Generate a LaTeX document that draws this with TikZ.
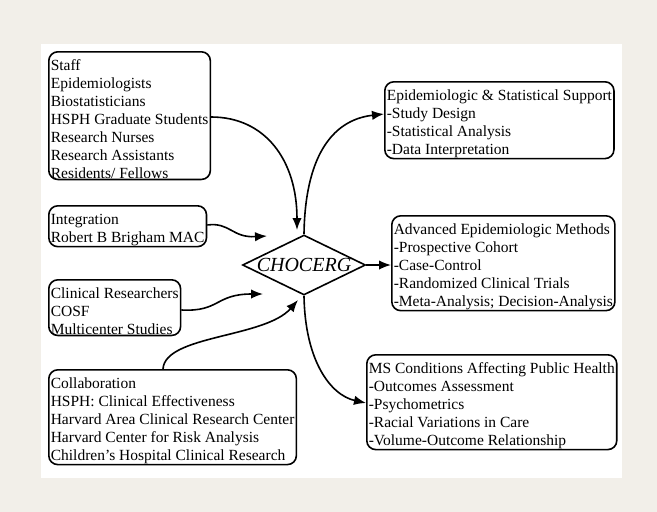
\documentclass[tikz,border=0pt]{standalone}
\usepackage{fontspec}
\setmainfont{Liberation Serif}
\usetikzlibrary{arrows.meta,shapes.geometric}

\definecolor{pagebeige}{RGB}{242,239,233}
\newcommand{\boxstrut}{\rule{0pt}{18.5pt}}

\tikzset{
  infobox/.style={draw, line width=1.6pt, rounded corners=9pt, align=left,
    anchor=north west, inner xsep=2pt, inner ysep=0.5pt,
    font=\fontsize{15.5}{18}\selectfont},
  hubnode/.style={draw, diamond, line width=1.6pt, inner sep=0pt,
    minimum width=123pt, minimum height=60pt,
    label={[font=\fontsize{20}{22}\selectfont\itshape]center:#1}},
  flow/.style={line width=1.6pt, -{Latex[length=12pt,width=9.5pt]}}
}

\begin{document}
\begin{tikzpicture}[x=1pt, y=-1pt]
\useasboundingbox (0,0) rectangle (657,512);
\fill[pagebeige] (0,0) rectangle (657,512);
\fill[white] (41,44) rectangle (622,478);

% left side
\node[infobox] (staff) at (48,51) {\boxstrut Staff\\Epidemiologists\\Biostatisticians\\HSPH Graduate Students\\Research Nurses\\Research Assistants\\Residents/ Fellows};
\node[infobox] (integ) at (48,205) {\boxstrut Integration\\Robert B Brigham MAC};
\node[infobox] (clin) at (48,279) {\boxstrut Clinical Researchers\\COSF\\Multicenter Studies};
\node[infobox] (collab) at (48,369) {\boxstrut Collaboration\\HSPH: Clinical Effectiveness\\Harvard Area Clinical Research Center\\Harvard Center for Risk Analysis\\Children's Hospital Clinical Research};

% centre
\node[hubnode=CHOCERG] (hub) at (304,265) {};

% right side
\node[infobox] (support) at (384,81) {\boxstrut Epidemiologic \& Statistical Support\\-Study Design\\-Statistical Analysis\\-Data Interpretation};
\node[infobox] (methods) at (391,215) {\boxstrut Advanced Epidemiologic Methods\\-Prospective Cohort\\-Case-Control\\-Randomized Clinical Trials\\-Meta-Analysis; Decision-Analysis};
\node[infobox] (conditions) at (366,354) {\boxstrut MS Conditions Affecting Public Health\\-Outcomes Assessment\\-Psychometrics\\-Racial Variations in Care\\-Volume-Outcome Relationship};

% free ends of the incoming arrows
\coordinate (staff-end) at (297,230);
\coordinate (integ-end) at (267,236);
\coordinate (clin-end) at (263,294);
\coordinate (collab-end) at (298,300);

% arrows in
\draw[flow] (staff.east |- 0,117) .. controls (265,117) and (297,160) .. (staff-end);
\draw[flow] (integ.east |- 0,225) .. controls (230,222) and (232,238) .. (integ-end);
\draw[flow] (clin.east |- 0,310) .. controls (220,312) and (215,294) .. (clin-end);
\draw[flow] (collab.north -| 163,0) .. controls (165,335) and (265,338) .. (collab-end);

% arrows out
\draw[flow] (hub.north) .. controls (305,160) and (330,120) .. (support.west |- 0,114);
\draw[flow] (hub.east) -- (methods.west |- hub.east);
\draw[flow] (hub.south) .. controls (305,360) and (330,395) .. (conditions.west |- 0,403);
\end{tikzpicture}
\end{document}
